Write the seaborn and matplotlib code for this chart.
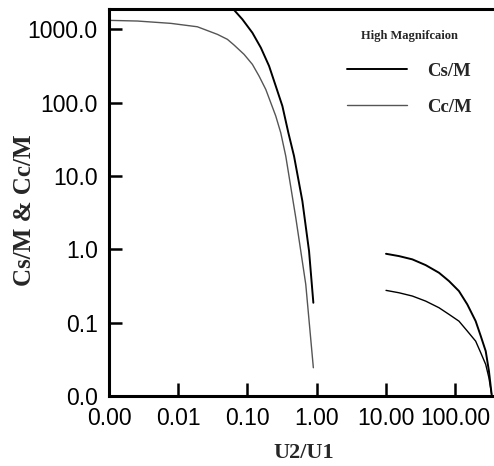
import numpy as np
import pandas as pd
import matplotlib
matplotlib.use('Agg')
import matplotlib.pyplot as plt
import seaborn as sns

# values (log-log axes)
cs_left_x = [0.060, 0.0641, 0.0844, 0.1177, 0.156, 0.205, 0.256, 0.319, 0.389,
             0.470, 0.620, 0.774, 0.893]
cs_left_y = [2000, 1840, 1374, 901, 563, 317, 169, 90.2, 39, 18.7, 4.56, 0.948, 0.187]
cc_left_x = [0.001, 0.00258, 0.00782, 0.0189, 0.0368, 0.0513, 0.0641, 0.0893, 0.1177,
             0.147, 0.1837, 0.256, 0.302, 0.357, 0.498, 0.694, 0.893]
cc_left_y = [1331, 1303, 1211, 1088, 857, 733, 612, 457, 334,
             231, 152, 65.9, 39, 18.7, 2.70, 0.333, 0.0243]

right_x = [10.0, 15.4, 24.0, 37.4, 58.2, 81.1, 113, 149, 197, 233, 275, 306, 335]
cs_right_y = [0.871, 0.81, 0.731, 0.61, 0.480, 0.37, 0.270, 0.178, 0.105, 0.066,
              0.041, 0.022, 0.0105]
cc_right_y = [0.276, 0.256, 0.231, 0.197, 0.160, 0.130, 0.105, 0.077, 0.056, 0.039,
              0.027, 0.0177, 0.0105]

xticks = [0.001, 0.01, 0.1, 1, 10, 100]
xtick_labels = ['0.00', '0.01', '0.10', '1.00', '10.00', '100.00']
yticks = [0.01, 0.1, 1, 10, 100, 1000]
ytick_labels = ['0.0', '0.1', '1.0', '10.0', '100.0', '1000.0']

sns.set_style('white')
plt.rcParams['font.family'] = ['Liberation Sans', 'DejaVu Sans']

fig = plt.figure(figsize=(4.94, 4.66), dpi=100)
ax = fig.add_axes([0.2206, 0.1502, 0.779, 0.8315])

cs_style = dict(color='black', linewidth=1.4)
cc_style = dict(color='black', linewidth=1.0)

sns.lineplot(x=cs_left_x, y=cs_left_y, ax=ax, sort=False, estimator=None, label='Cs/M', **cs_style)
sns.lineplot(x=right_x, y=cs_right_y, ax=ax, sort=False, estimator=None, **cs_style)
sns.lineplot(x=cc_left_x, y=cc_left_y, ax=ax, sort=False, estimator=None, label='Cc/M', **cc_style)
sns.lineplot(x=right_x, y=cc_right_y, ax=ax, sort=False, estimator=None, **cc_style)

ax.set_xscale('log')
ax.set_yscale('log')
ax.set_xlim(0.001, 360)
ax.set_ylim(0.01, 1930)
ax.set_xticks(xticks)
ax.set_xticklabels(xtick_labels)
ax.set_yticks(yticks)
ax.set_yticklabels(ytick_labels)
ax.minorticks_off()
ax.tick_params(direction='in', length=9.5, width=1.8, labelsize=16.5, pad=8,
               left=True, bottom=True, colors='black')

for side in ['left', 'bottom', 'top']:
    ax.spines[side].set_linewidth(2.2)
    ax.spines[side].set_color('black')
ax.spines['right'].set_visible(False)

serif = ['Liberation Serif', 'DejaVu Serif']
ax.set_xlabel('U2/U1', fontsize=16, fontweight='bold', family=serif)
ax.set_ylabel('Cs/M & Cc/M', fontsize=18, fontweight='bold', family=serif)
ax.xaxis.set_label_coords(0.506, -0.122)
ax.yaxis.set_label_coords(-0.19, 0.48)

handles, labels = ax.get_legend_handles_labels()
handles[1].set_color('#555555')
leg = ax.legend(handles, labels, title='High Magnifcaion', frameon=False,
                loc='upper left', bbox_to_anchor=(0.702, 0.936), bbox_transform=fig.transFigure,
                borderaxespad=0, borderpad=0, handlelength=3.2, handletextpad=1.1,
                labelspacing=1.0, prop={'family': serif, 'weight': 'bold', 'size': 13.5},
                title_fontproperties={'family': serif, 'weight': 'bold', 'size': 9})
leg._legend_box.sep = 15

fig.savefig('out.png', dpi=100)
